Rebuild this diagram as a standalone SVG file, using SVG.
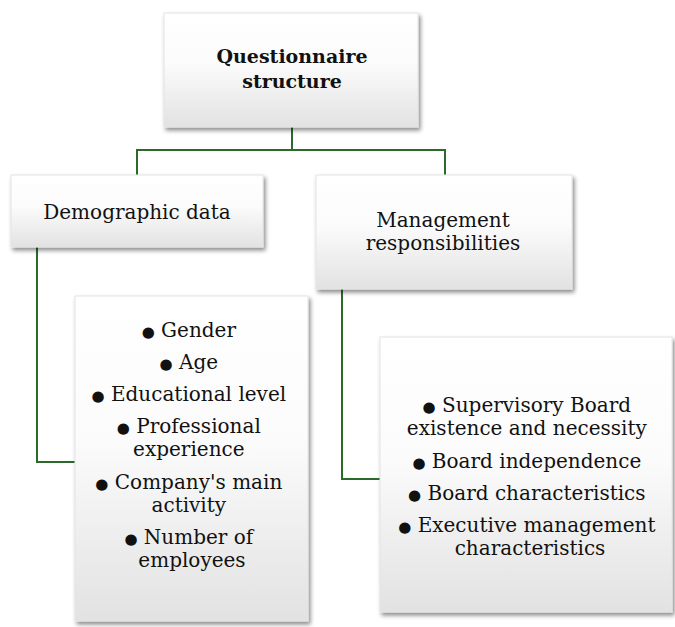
<svg xmlns="http://www.w3.org/2000/svg" width="675" height="627" viewBox="0 0 675 627">
<defs>
<linearGradient id="g" x1="0" y1="0" x2="0" y2="1">
<stop offset="0" stop-color="#ffffff"/>
<stop offset="0.45" stop-color="#fbfbfb"/>
<stop offset="1" stop-color="#e2e2e2"/>
</linearGradient>
<filter id="sh" x="-10%" y="-10%" width="125%" height="125%">
<feDropShadow dx="2" dy="3" stdDeviation="2" flood-color="#000" flood-opacity="0.45"/>
</filter>
</defs>
<style>
.box{fill:url(#g);stroke:#e4e4e4;stroke-width:1;filter:url(#sh)}
.t{font-family:'DejaVu Serif',serif;font-size:20px;fill:#111;text-anchor:middle}
.b{font-weight:bold;font-size:19px}
.bu{font-size:15px}
.c{fill:none;stroke:#2b6a2b;stroke-width:2}
</style>
<rect width="675" height="627" fill="#fff"/>
<g id="connectors">
<path class="c" d="M292,127 V150 M137,175 V150 H445 V175"/>
<path class="c" d="M37,247 V462 H75"/>
<path class="c" d="M342,289 V479 H380"/>
</g>
<g id="n-top">
<rect class="box" x="164" y="13" width="254" height="114"/>
<text class="t b"><tspan x="292" y="63">Questionnaire</tspan><tspan x="292" y="88">structure</tspan></text>
</g>
<g id="n-demo">
<rect class="box" x="11" y="175" width="252" height="72"/>
<text class="t" x="137" y="219">Demographic data</text>
</g>
<g id="n-mgmt">
<rect class="box" x="316" y="175" width="256" height="114"/>
<text class="t"><tspan x="443" y="227">Management</tspan><tspan x="443" y="250">responsibilities</tspan></text>
</g>
<g id="n-demo-list">
<rect class="box" x="75" y="296" width="233" height="325"/>
<text class="t">
<tspan x="192" y="337"><tspan class="bu">●</tspan> Gender</tspan>
<tspan x="192" y="369"><tspan class="bu">●</tspan> Age</tspan>
<tspan x="192" y="401"><tspan class="bu">●</tspan> Educational level</tspan>
<tspan x="192" y="433"><tspan class="bu">●</tspan> Professional</tspan>
<tspan x="192" y="456">experience</tspan>
<tspan x="192" y="489"><tspan class="bu">●</tspan> Company's main</tspan>
<tspan x="192" y="512">activity</tspan>
<tspan x="192" y="544"><tspan class="bu">●</tspan> Number of</tspan>
<tspan x="192" y="567">employees</tspan>
</text>
</g>
<g id="n-mgmt-list">
<rect class="box" x="380" y="337" width="292" height="275"/>
<text class="t">
<tspan x="530" y="412"><tspan class="bu">●</tspan> Supervisory Board</tspan>
<tspan x="530" y="435">existence and necessity</tspan>
<tspan x="530" y="468"><tspan class="bu">●</tspan> Board independence</tspan>
<tspan x="530" y="500"><tspan class="bu">●</tspan> Board characteristics</tspan>
<tspan x="530" y="532"><tspan class="bu">●</tspan> Executive management</tspan>
<tspan x="530" y="555">characteristics</tspan>
</text>
</g>
</svg>
